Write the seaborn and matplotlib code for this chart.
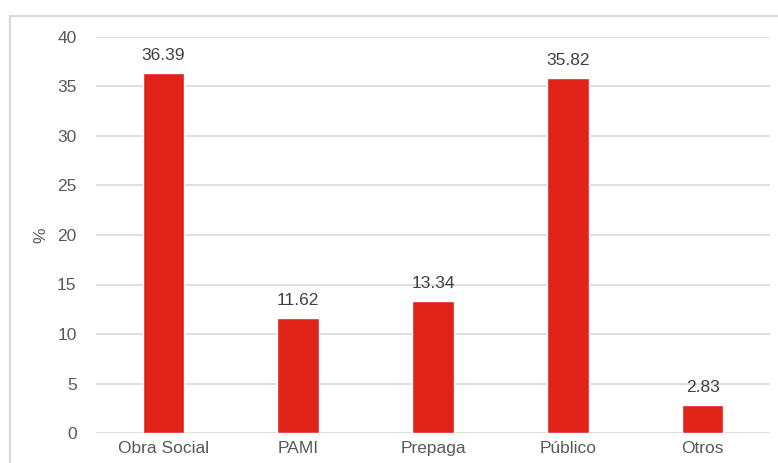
import matplotlib
matplotlib.use("Agg")
import matplotlib.pyplot as plt
import seaborn as sns
import pandas as pd
from matplotlib.patches import Rectangle

categories = ["Obra Social", "PAMI", "Prepaga", "Público", "Otros"]
values = [36.39, 11.62, 13.34, 35.82, 2.83]
yticks = [0, 5, 10, 15, 20, 25, 30, 35, 40]

sns.set_theme(style="white")
plt.rcParams['font.family'] = ['Liberation Sans', 'DejaVu Sans']

df = pd.DataFrame({"cat": categories, "val": values})

fig = plt.figure(figsize=(7.78, 4.63), dpi=100)
ax = fig.add_axes([96/778, 1-433/463, (770-96)/778, (433-37)/463])

# outer chart border
fig.patches.append(Rectangle((10/778, -0.1), 1.2, 1-16/463+0.1, transform=fig.transFigure,
                             fill=False, edgecolor="#d9d9d9", linewidth=1.5, zorder=0))

sns.barplot(data=df, x="cat", y="val", color="#e02219", width=0.31, ax=ax,
            saturation=1, zorder=3)

ax.set_ylim(0, 40)
ax.set_yticks(yticks)
ax.set_xlim(-0.5, len(categories)-0.5)
ax.yaxis.grid(True, color="#d9d9d9", linewidth=1.2, zorder=0)
ax.set_axisbelow(True)
for s in ax.spines.values():
    s.set_visible(False)
ax.tick_params(axis="both", length=0, labelsize=12.5, colors="#595959")
ax.tick_params(axis="y", pad=14)
ax.tick_params(axis="x", pad=6)
ax.set_xlabel("")
ax.set_ylabel("%", fontsize=12.5, color="#595959", labelpad=6)

for i, v in enumerate(values):
    ax.text(i, v + 1.0, f"{v:.2f}", ha="center", va="bottom", fontsize=12.5, color="#404040")

fig.savefig("out.png", dpi=100)
